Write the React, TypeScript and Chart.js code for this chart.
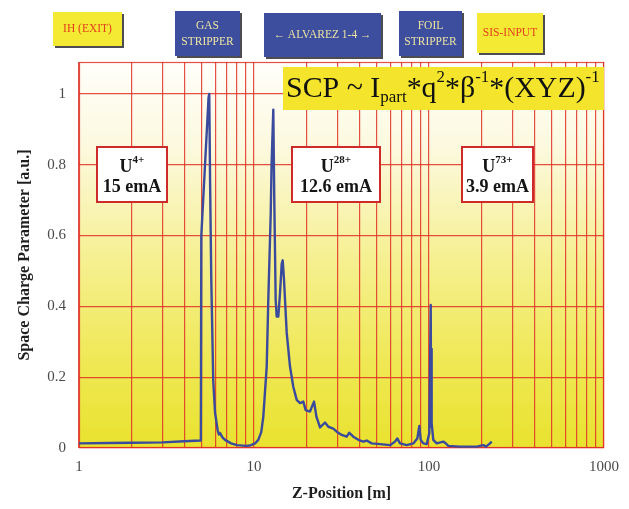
import React, { useEffect, useRef } from "react";
import { Chart, registerables } from "chart.js";

Chart.register(...registerables);

// ---------- data ----------
const zPositions = [
  1, 1.5, 2, 3, 4, 4.97, 5.0, 5.25, 5.5, 5.55, 5.61, 5.7, 5.85, 5.99, 6.2, 6.3, 6.4, 6.6, 6.83, 7.4, 8.0, 9.0,
  9.5, 10.2, 10.58, 11.0, 11.3, 11.82, 12.07, 12.46, 12.6, 12.89, 13.06, 13.3, 13.48, 13.77, 14.08, 14.4, 14.59,
  14.84, 15.38, 16.06, 16.77, 17.54, 18.32, 19.13, 19.74, 20.89, 22.03, 22.75, 23.84, 25.46, 26.59, 28.39, 29.69,
  31.7, 33.86, 35.04, 36.94, 39.45, 42.13, 44.06, 47.05, 52.48, 59.86, 63.93, 65.9, 68.29, 74.59, 81.34, 85.74,
  88.04, 89.67, 92.78, 97.03, 100.4, 102.3, 102.8, 103.3, 103.8, 105.8, 110.7, 120.7, 123.4, 128.9, 150.3, 187.3,
  204.3, 211.7, 223.2, 228.2,
];
const scpValues = [
  0.013, 0.014, 0.015, 0.016, 0.019, 0.021, 0.6, 0.8, 0.99, 1.0, 0.757, 0.475, 0.19, 0.1, 0.05, 0.038, 0.042, 0.03,
  0.023, 0.013, 0.008, 0.006, 0.007, 0.014, 0.023, 0.045, 0.088, 0.23, 0.418, 0.66, 0.8, 0.955, 0.7, 0.418, 0.371,
  0.371, 0.437, 0.52, 0.53, 0.475, 0.325, 0.23, 0.173, 0.136, 0.127, 0.131, 0.107, 0.103, 0.131, 0.088, 0.058,
  0.072, 0.06, 0.055, 0.046, 0.037, 0.032, 0.043, 0.032, 0.023, 0.018, 0.021, 0.013, 0.011, 0.008, 0.018, 0.027,
  0.013, 0.008, 0.013, 0.027, 0.062, 0.023, 0.013, 0.011, 0.042, 0.404, 0.06, 0.28, 0.07, 0.023, 0.013, 0.018,
  0.015, 0.006, 0.004, 0.004, 0.008, 0.004, 0.013, 0.018,
];

const xTickLabels = ["1", "10", "100", "1000"];
const yTickValues = [0, 0.2, 0.4, 0.6, 0.8, 1];
const yTickLabels = ["0", "0.2", "0.4", "0.6", "0.8", "1"];

const stationNames = ["IH (EXIT)", "GAS\nSTRIPPER", "\u2190 ALVAREZ 1-4 \u2192", "FOIL\nSTRIPPER", "SIS-INPUT"];
const ionCharges = ["4+", "28+", "73+"];
const ionCurrents = ["15 emA", "12.6 emA", "3.9 emA"];

const xTitle = "Z-Position [m]";
const yTitle = "Space Charge Parameter [a.u.]";

// ---------- layout / style ----------
const W = 629;
const H = 509;
const SERIF = "'Liberation Serif', 'Times New Roman', serif";
const GRID = "rgba(224,48,38,0.85)";

const stationBoxes = [
  { x: 53, y: 12, w: 69, h: 34, kind: "yellow" },
  { x: 175, y: 11, w: 65, h: 45, kind: "blue" },
  { x: 264, y: 13, w: 117, h: 44, kind: "blue" },
  { x: 399, y: 11, w: 63, h: 45, kind: "blue" },
  { x: 477, y: 13, w: 66, h: 40, kind: "yellow" },
];
const ionBoxes = [
  { x: 97, y: 147, w: 70, h: 55 },
  { x: 292, y: 147, w: 88, h: 55 },
  { x: 462, y: 147, w: 71, h: 55 },
];

function buildLogGrid(): number[] {
  const out: number[] = [];
  for (let d = 1; d < 1000; d *= 10) for (let m = 1; m < 10; m++) out.push(m * d);
  out.push(1000);
  return out;
}

const decorPlugin = {
  id: "decor",
  beforeDraw(chart: any) {
    const { ctx, chartArea: a } = chart;
    ctx.save();
    ctx.fillStyle = "#ffffff";
    ctx.fillRect(0, 0, chart.width, chart.height);
    const g = ctx.createLinearGradient(0, a.top, 0, a.bottom);
    g.addColorStop(0, "#fffefa");
    g.addColorStop(0.22, "#fcf9df");
    g.addColorStop(0.5, "#f6f094");
    g.addColorStop(0.78, "#efe854");
    g.addColorStop(1, "#e9e22e");
    ctx.fillStyle = g;
    ctx.fillRect(a.left, a.top, a.right - a.left, a.bottom - a.top);
    ctx.restore();
  },
  beforeDatasetsDraw(chart: any) {
    const { ctx, chartArea: a } = chart;
    ctx.save();
    ctx.strokeStyle = GRID;
    ctx.lineWidth = 1.2;
    ctx.strokeRect(a.left + 0.5, a.top + 0.5, a.right - a.left - 1, a.bottom - a.top - 1);
    ctx.restore();
  },
  afterDraw(chart: any) {
    const { ctx } = chart;
    ctx.save();
    // station boxes
    stationBoxes.forEach((b, i) => {
      ctx.fillStyle = "rgba(45,45,50,0.85)";
      ctx.fillRect(b.x + 2, b.y + 2, b.w, b.h);
      ctx.fillStyle = b.kind === "blue" ? "#3e4e9f" : "#f4ea33";
      ctx.fillRect(b.x, b.y, b.w, b.h);
      ctx.fillStyle = b.kind === "blue" ? "#ebe4a2" : "#e2401c";
      ctx.font = `11.5px ${SERIF}`;
      ctx.textAlign = "center";
      ctx.textBaseline = "middle";
      const lines = stationNames[i].split("\n");
      const cx = b.x + b.w / 2;
      const cy = b.y + b.h / 2;
      const lh = 16;
      lines.forEach((ln, k) => {
        ctx.fillText(ln, cx, cy + (k - (lines.length - 1) / 2) * lh);
      });
    });

    // ion boxes
    ionBoxes.forEach((b, i) => {
      ctx.fillStyle = "#ffffff";
      ctx.fillRect(b.x, b.y, b.w, b.h);
      ctx.strokeStyle = "#cf2a2a";
      ctx.lineWidth = 2;
      ctx.strokeRect(b.x, b.y, b.w, b.h);
      ctx.fillStyle = "#151515";
      ctx.textBaseline = "alphabetic";
      ctx.textAlign = "left";
      const cx = b.x + b.w / 2;
      ctx.font = `bold 18px ${SERIF}`;
      const uW = ctx.measureText("U").width;
      ctx.font = `bold 11px ${SERIF}`;
      const sW = ctx.measureText(ionCharges[i]).width;
      const startX = cx - (uW + sW) / 2;
      ctx.font = `bold 18px ${SERIF}`;
      ctx.fillText("U", startX, b.y + 25);
      ctx.font = `bold 11px ${SERIF}`;
      ctx.fillText(ionCharges[i], startX + uW, b.y + 16);
      ctx.font = `bold 18px ${SERIF}`;
      ctx.textAlign = "center";
      ctx.fillText(ionCurrents[i], cx, b.y + 45);
    });

    // formula box
    const fx = 283, fy = 67, fw = 321, fh = 43;
    ctx.fillStyle = "#f4e52c";
    ctx.fillRect(fx, fy, fw, fh);
    const parts: [string, string][] = [
      ["SCP ~ I", "n"],
      ["part", "sub"],
      ["*q", "n"],
      ["2", "sup"],
      ["*\u03b2", "n"],
      ["-1", "sup"],
      ["*(XYZ)", "n"],
      ["-1", "sup"],
    ];
    const mainSize = 30;
    const smallSize = 17;
    let total = 0;
    parts.forEach(([t, k]) => {
      ctx.font = `${k === "n" ? mainSize : smallSize}px ${SERIF}`;
      total += ctx.measureText(t).width;
    });
    const target = 314;
    const sc = Math.min(1.2, target / total);
    let px = fx + 3;
    ctx.fillStyle = "#111";
    ctx.textAlign = "left";
    ctx.textBaseline = "alphabetic";
    parts.forEach(([t, k]) => {
      const size = (k === "n" ? mainSize : smallSize) * sc;
      ctx.font = `${size}px ${SERIF}`;
      const yb = k === "n" ? 97 : k === "sup" ? 82 : 102;
      ctx.fillText(t, px, yb);
      px += ctx.measureText(t).width;
    });
    ctx.restore();
  },
};

export default function App() {
  const ref = useRef<HTMLCanvasElement | null>(null);

  useEffect(() => {
    if (!ref.current) return;
    const gridVals = buildLogGrid();
    const chart = new Chart(ref.current, {
      type: "line",
      data: {
        datasets: [
          {
            data: zPositions.map((z, i) => ({ x: z, y: scpValues[i] })),
            borderColor: "#3a4a9c",
            borderWidth: 2.4,
            borderJoinStyle: "round",
            pointRadius: 0,
            tension: 0,
            fill: false,
          },
        ],
      },
      options: {
        animation: false,
        responsive: false,
        devicePixelRatio: 1,
        layout: { padding: { top: 62, right: 25, left: 0, bottom: 0 } },
        plugins: { legend: { display: false }, tooltip: { enabled: false } },
        scales: {
          x: {
            type: "logarithmic",
            min: 1,
            max: 1000,
            afterBuildTicks: (s: any) => {
              s.ticks = gridVals.map((v) => ({ value: v }));
            },
            afterFit: (s: any) => {
              s.height = H - 448;
            },
            ticks: {
              autoSkip: false,
              maxRotation: 0,
              padding: 10,
              color: "#4a4a4a",
              font: { family: SERIF, size: 15 },
              callback: (v: any) => {
                const idx = [1, 10, 100, 1000].indexOf(Number(v));
                return idx >= 0 ? xTickLabels[idx] : "";
              },
            },
            grid: { color: GRID, lineWidth: 1.2, drawTicks: false },
            border: { display: false },
            title: {
              display: true,
              text: xTitle,
              color: "#1e1e1e",
              font: { family: SERIF, size: 16, weight: "bold" },
              padding: { top: 0, bottom: 6 },
            },
          },
          y: {
            type: "linear",
            min: 0,
            max: 1.09,
            afterBuildTicks: (s: any) => {
              s.ticks = yTickValues.map((v) => ({ value: v }));
            },
            afterFit: (s: any) => {
              s.width = 79;
            },
            ticks: {
              padding: 13,
              color: "#4a4a4a",
              font: { family: SERIF, size: 15 },
              callback: (v: any) => {
                const idx = yTickValues.findIndex((t) => Math.abs(t - Number(v)) < 1e-6);
                return idx >= 0 ? yTickLabels[idx] : "";
              },
            },
            grid: { color: GRID, lineWidth: 1.2, drawTicks: false },
            border: { display: false },
            title: {
              display: true,
              text: yTitle,
              color: "#1e1e1e",
              font: { family: SERIF, size: 16, weight: "bold" },
              padding: { top: 15, bottom: 0 },
            },
          },
        },
      },
      plugins: [decorPlugin],
    } as any);
    return () => chart.destroy();
  }, []);

  return (
    <div style={{ position: "fixed", left: 0, top: 0, width: W, height: H, background: "#fff" }}>
      <canvas ref={ref} width={W} height={H} style={{ width: W, height: H, display: "block" }} />
    </div>
  );
}
